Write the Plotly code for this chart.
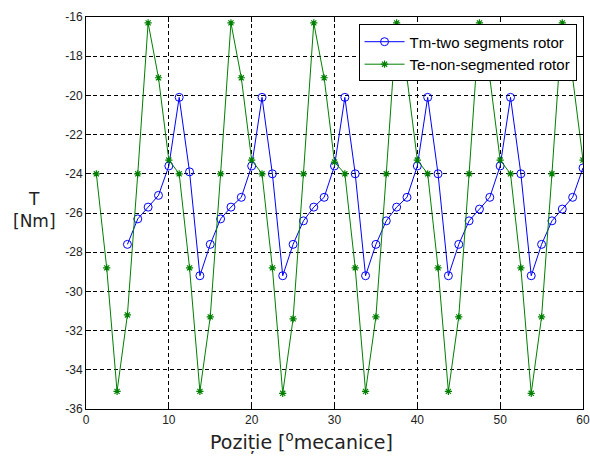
import plotly.graph_objects as go

# Rotor position [mechanical degrees]
pos_tm = [5, 6.25, 7.5, 8.75, 10, 11.25, 12.5, 13.75,
          15, 16.25, 17.5, 18.75, 20, 21.25, 22.5, 23.75,
          25, 26.25, 27.5, 28.75, 30, 31.25, 32.5, 33.75,
          35, 36.25, 37.5, 38.75, 40, 41.25, 42.5, 43.75,
          45, 46.25, 47.5, 48.75, 50, 51.25, 52.5, 53.75,
          55, 56.25, 57.5, 58.75, 60]
pos_te = [1.25, 2.5, 3.75, 5, 6.25, 7.5, 8.75, 10,
          11.25, 12.5, 13.75, 15, 16.25, 17.5, 18.75, 20,
          21.25, 22.5, 23.75, 25, 26.25, 27.5, 28.75, 30,
          31.25, 32.5, 33.75, 35, 36.25, 37.5, 38.75, 40,
          41.25, 42.5, 43.75, 45, 46.25, 47.5, 48.75, 50,
          51.25, 52.5, 53.75, 55, 56.25, 57.5, 58.75, 60]

# Torque [Nm]
torque_tm = [-27.6, -26.3, -25.7, -25.1, -23.6, -20.1, -23.9, -29.2,
             -27.6, -26.3, -25.7, -25.2, -23.6, -20.1, -24.0, -29.2,
             -27.6, -26.4, -25.7, -25.2, -23.6, -20.1, -24.0, -29.2,
             -27.6, -26.4, -25.7, -25.2, -23.6, -20.1, -24.0, -29.2,
             -27.6, -26.4, -25.8, -25.2, -23.6, -20.1, -24.0, -29.2,
             -27.6, -26.4, -25.8, -25.2, -23.7]
torque_te = [-24.0, -28.8, -35.1, -31.2, -24.0, -16.3, -19.1, -23.3,
             -24.0, -28.8, -35.1, -31.3, -24.0, -16.3, -19.1, -23.3,
             -24.0, -28.8, -35.2, -31.4, -24.0, -16.3, -19.1, -23.4,
             -24.0, -28.8, -35.1, -31.3, -24.0, -16.3, -19.1, -23.3,
             -24.0, -28.8, -35.1, -31.3, -24.0, -16.3, -19.1, -23.3,
             -24.0, -28.8, -35.2, -31.3, -24.0, -16.3, -19.1, -23.3]

x_ticks = [0, 10, 20, 30, 40, 50, 60]
y_ticks = [-36, -34, -32, -30, -28, -26, -24, -22, -20, -18, -16]

SANS = "Liberation Sans, Arial, sans-serif"
LABEL_FONT = "DejaVu Sans, Verdana, sans-serif"

fig = go.Figure()
fig.add_trace(go.Scatter(
    x=pos_tm, y=torque_tm, mode="lines+markers",
    name="Tm-two segments rotor",
    line=dict(color="#0000ff", width=1),
    marker=dict(symbol="circle-open", size=8, color="#0000ff",
                line=dict(width=1, color="#0000ff")),
))
fig.add_trace(go.Scatter(
    x=pos_te, y=torque_te, mode="lines+markers",
    name="Te-non-segmented rotor",
    line=dict(color="#008000", width=1),
    marker=dict(symbol="asterisk-open", size=6, color="#008000",
                line=dict(width=1.2, color="#008000")),
))

axis_common = dict(
    automargin=False,
    showline=True, linecolor="black", linewidth=1, mirror="allticks",
    ticks="inside", ticklen=5, tickcolor="black",
    showgrid=True, gridcolor="black", gridwidth=1, griddash="4px,3px",
    zeroline=False,
    tickfont=dict(family=SANS, size=12, color="#222"),
)

fig.update_xaxes(range=[0, 60], tickvals=x_ticks,
                 ticktext=[str(v) for v in x_ticks], **axis_common)
fig.update_yaxes(range=[-36, -16], tickvals=y_ticks,
                 ticktext=[str(v) for v in y_ticks], **axis_common)

fig.update_layout(
    template="none",
    width=590, height=456,
    margin=dict(l=86, r=7, t=17, b=47),
    paper_bgcolor="white", plot_bgcolor="white",
    showlegend=True,
    legend=dict(
        x=0.987, y=0.981, xanchor="right", yanchor="top",
        bgcolor="white", bordercolor="black", borderwidth=1,
        font=dict(family=SANS, size=15, color="black"),
        tracegroupgap=0, itemwidth=40,
    ),
    annotations=[
        dict(text="Poziție [<sup>o</sup>mecanice]", xref="paper", yref="paper",
             x=0.433, y=0, yshift=-32, xanchor="center", yanchor="middle",
             showarrow=False,
             font=dict(family=LABEL_FONT, size=19, color="#222")),
        dict(text="T<br>[Nm]", xref="paper", yref="paper",
             x=0, xshift=-52, y=0.507, xanchor="center", yanchor="middle",
             showarrow=False, align="center",
             font=dict(family=LABEL_FONT, size=17, color="#222")),
    ],
)

fig.write_html("out.html")
